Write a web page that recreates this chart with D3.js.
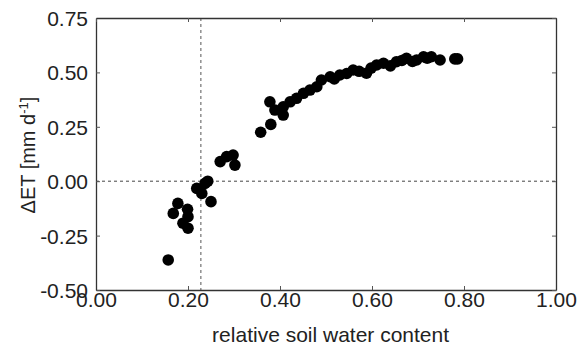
<!DOCTYPE html>
<html>
<head>
<meta charset="utf-8">
<script src="https://cdn.jsdelivr.net/npm/d3@7"></script>
<style>
  body { margin: 0; background: #fff; }
  text { font-family: "Liberation Sans", Arial, sans-serif; fill: #222; }
</style>
</head>
<body>
<script>
// soil water content (x) and change in ET (y)
var swc = [0.157, 0.168, 0.178, 0.189, 0.199, 0.200, 0.200, 0.219, 0.230, 0.237, 0.243, 0.250,
           0.270, 0.284, 0.298, 0.302,
           0.358, 0.380, 0.378, 0.389, 0.407, 0.407, 0.422, 0.436, 0.451, 0.465, 0.480,
           0.490, 0.509, 0.518, 0.530, 0.545, 0.559, 0.572, 0.588, 0.598, 0.610, 0.625, 0.640,
           0.653, 0.665, 0.675, 0.688, 0.697, 0.712, 0.720, 0.729, 0.748, 0.780, 0.786];
var dET = [-0.362, -0.148, -0.102, -0.193, -0.129, -0.163, -0.216, -0.033, -0.056, -0.010, 0.000, -0.094,
           0.090, 0.113, 0.120, 0.074,
           0.225, 0.261, 0.365, 0.327, 0.304, 0.342, 0.365, 0.381, 0.404, 0.419, 0.434,
           0.465, 0.480, 0.470, 0.488, 0.495, 0.511, 0.505, 0.496, 0.520, 0.534, 0.542, 0.530,
           0.549, 0.555, 0.565, 0.550, 0.557, 0.572, 0.565, 0.572, 0.557, 0.562, 0.562];

var xTicks = [0, 0.2, 0.4, 0.6, 0.8, 1.0];
var yTicks = [-0.5, -0.25, 0, 0.25, 0.5, 0.75];
var xThreshold = 0.228;

var width = 578, height = 345;
var margin = {left: 96, right: 22, top: 18, bottom: 55};

var svg = d3.select('body').append('svg')
    .attr('width', width)
    .attr('height', height);

var x = d3.scaleLinear().domain([0, 1]).range([margin.left, width - margin.right]);
var y = d3.scaleLinear().domain([-0.5, 0.75]).range([height - margin.bottom, margin.top]);

// dashed reference lines
svg.append('line')
    .attr('x1', x(0)).attr('x2', x(1))
    .attr('y1', y(0)).attr('y2', y(0))
    .style('stroke', '#444').style('stroke-width', 1).style('stroke-dasharray', '3,3');
svg.append('line')
    .attr('x1', x(xThreshold)).attr('x2', x(xThreshold))
    .attr('y1', y(0.75)).attr('y2', y(-0.5))
    .style('stroke', '#555').style('stroke-width', 1).style('stroke-dasharray', '3,3');

// axes, ticks pointing inward on all four sides
var fmt = function(d){ return d3.format('.2f')(d).replace('\u2212', '-'); };
var axBottom = svg.append('g')
    .attr('transform', 'translate(0,' + y(-0.5) + ')')
    .call(d3.axisBottom(x).tickValues(xTicks).tickSizeInner(-4).tickSizeOuter(0).tickPadding(8).tickFormat(fmt));
var axLeft = svg.append('g')
    .attr('transform', 'translate(' + x(0) + ',0)')
    .call(d3.axisLeft(y).tickValues(yTicks).tickSizeInner(-4).tickSizeOuter(0).tickPadding(8).tickFormat(fmt));
var axTop = svg.append('g')
    .attr('transform', 'translate(0,' + y(0.75) + ')')
    .call(d3.axisTop(x).tickValues(xTicks).tickSizeInner(-4).tickSizeOuter(0).tickFormat(''));
var axRight = svg.append('g')
    .attr('transform', 'translate(' + x(1) + ',0)')
    .call(d3.axisRight(y).tickValues(yTicks).tickSizeInner(-4).tickSizeOuter(0).tickFormat(''));

[axBottom, axLeft, axTop, axRight].forEach(function(g){
    g.select('.domain').style('stroke', '#333').style('stroke-width', 1.3);
    g.selectAll('.tick line').style('stroke', '#555');
    g.selectAll('.tick text').style('font-size', '21px').style('fill', '#222')
        .style('font-family', '"Liberation Sans", Arial, sans-serif');
});
axBottom.selectAll('.tick text').attr('dy', '0.45em');
axLeft.selectAll('.tick text').attr('dy', '0.36em');

// points
svg.selectAll('circle')
    .data(swc.map(function(d, i){ return [d, dET[i]]; }))
    .enter().append('circle')
    .attr('cx', function(d){ return x(d[0]); })
    .attr('cy', function(d){ return y(d[1]); })
    .attr('r', 5.8)
    .style('fill', '#000');

// axis titles
svg.append('text')
    .attr('x', x(0.51)).attr('y', 342)
    .attr('text-anchor', 'middle')
    .style('font-size', '21px')
    .text('relative soil water content');

var yt = svg.append('text')
    .attr('transform', 'translate(35,' + y(0.12) + ') rotate(-90)')
    .attr('text-anchor', 'middle')
    .style('font-size', '20px');
yt.append('tspan').text('\u0394ET [mm d');
yt.append('tspan').attr('dy', -7).style('font-size', '13px').text('-1');
yt.append('tspan').attr('dy', 7).text(']');
</script>
</body>
</html>
